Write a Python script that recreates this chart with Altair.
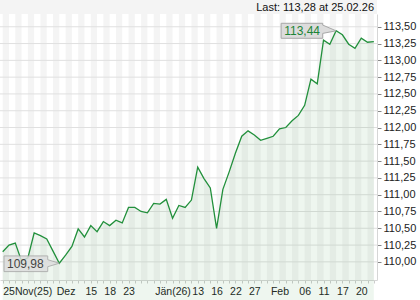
import json
import altair as alt
import pandas as pd

# ---- data ----
values = [110.15, 110.25, 110.28, 110.01, 110.06, 110.43, 110.39, 110.34, 110.16, 109.98,
          110.10, 110.23, 110.49, 110.37, 110.54, 110.45, 110.60, 110.54, 110.62, 110.58,
          110.81, 110.81, 110.75, 110.73, 110.87, 110.86, 110.93, 110.65, 110.84, 110.81,
          110.92, 111.41, 111.24, 111.10, 110.50, 111.08, 111.34, 111.62, 111.87, 111.95,
          111.89, 111.81, 111.84, 111.87, 111.98, 112.00, 112.10, 112.18, 112.33, 112.72,
          112.65, 113.30, 113.24, 113.44, 113.38, 113.24, 113.18, 113.33, 113.27, 113.28]
x_label_idx = [0, 10, 14, 17, 20, 27, 31, 34, 37, 40, 44, 48, 51, 54, 57]
x_labels = ["25Nov(25)", "Dez", "15", "18", "23", "Jän(26)", "13", "16", "22", "27",
            "Feb", "06", "11", "17", "20"]
y_ticks = [110.00, 110.25, 110.50, 110.75, 111.00, 111.25, 111.50, 111.75,
           112.00, 112.25, 112.50, 112.75, 113.00, 113.25, 113.50]
last_date = "25.02.26"

n = len(values)
df = pd.DataFrame({"i": list(range(n)), "v": values})
stripes = pd.DataFrame({"i": [i for i in range(0, n - 1, 2)],
                        "e": [i + 1 for i in range(0, n - 1, 2)]})
grid = pd.DataFrame({"v": y_ticks})

imax = values.index(max(values))
imin = values.index(min(values))
fmt = lambda v: f"{v:.2f}".replace(".", ",")
ext = pd.DataFrame({"i": [imax, imin], "v": [values[imax], values[imin]],
                    "lab": [fmt(values[imax]), fmt(values[imin])]})
hdr = pd.DataFrame({"txt": [f"Last: {fmt(values[-1])} at {last_date}"]})

W, H = 377, 266
xs = alt.Scale(domain=[-0.43, n - 0.5], nice=False, zero=False)
ys = alt.Scale(domain=[109.73, 113.69], nice=False, zero=False)
FONT = "Liberation Sans"
GREEN = "#22903c"

idx_js = json.dumps(x_label_idx)
lab_js = json.dumps(x_labels, ensure_ascii=False)
x_expr = f"indexof({idx_js}, datum.value) >= 0 ? {lab_js}[indexof({idx_js}, datum.value)] : ''"

xa = alt.Axis(values=list(range(n)), labelExpr=x_expr, labelOverlap=False,
              labelFlush=6, tickSize=3, tickColor="#cccccc",
              domainColor="#d6d6d6", labelPadding=3, labelFont=FONT,
              labelFontSize=10.5, labelColor="#222", grid=False, title=None)
ya = alt.Axis(orient="right", values=y_ticks,
              labelExpr="replace(format(datum.value, '.2f'), '.', ',')",
              tickSize=4, tickColor="#888888", domainColor="#d6d6d6",
              labelPadding=2, labelFont=FONT, labelFontSize=11,
              labelColor="#222", grid=False, title=None)

def X(f="i"):
    return alt.X(f"{f}:Q", scale=xs, axis=xa, title=None)

def Y(f="v"):
    return alt.Y(f"{f}:Q", scale=ys, axis=ya, title=None)

band = alt.Chart(hdr).mark_rect(color="#f4f4f4").encode(
    x=alt.value(0), x2=alt.value(W), y=alt.value(-14), y2=alt.value(0))
header = alt.Chart(hdr).mark_text(align="right", baseline="middle", font=FONT,
                                  fontSize=11, color="#111").encode(
    x=alt.value(374), y=alt.value(-6), text="txt:N")

stripe_layer = alt.Chart(stripes).mark_rect(color="#f4f4f4").encode(
    x=X("i"), x2="e:Q", y=alt.value(0), y2=alt.value(H))

grid_layer = alt.Chart(grid).mark_rule(color="#e0e0e0", strokeWidth=1).encode(y=Y())

area = alt.Chart(df).mark_area(color="#3a9a4a", opacity=0.085).encode(
    x=X(), y=Y(), y2=alt.value(H))

line = alt.Chart(df).mark_line(color=GREEN, strokeWidth=1.3).encode(x=X(), y=Y())

max_box_path = "M -55 -7.5 L -13.4 -7.5 L -13.4 -5.7 L 0 0 L -13.4 2.6 L -13.4 7.5 L -55 7.5 Z"
min_box_path = "M -55.3 -7.3 L -11.6 -7.3 L -11.6 -3.5 L 0 0 L -11.6 3.5 L -11.6 8.4 L -55.3 8.4 Z"

ext_max = ext.iloc[[0]]
ext_min = ext.iloc[[1]]
max_box = alt.Chart(ext_max).mark_point(shape=max_box_path, size=4, filled=True,
                                        fill="#dcdcdc", stroke="#a8a8a8",
                                        strokeWidth=1, opacity=1).encode(x=X(), y=Y())
max_txt = alt.Chart(ext_max).mark_text(font=FONT, fontSize=12, color="#1d8436",
                                       dx=-34, dy=0.5).encode(x=X(), y=Y(), text="lab:N")
min_box = alt.Chart(ext_min).mark_point(shape=min_box_path, size=4, filled=True,
                                        fill="#dedede", stroke="#a8a8a8",
                                        strokeWidth=1, opacity=0.85).encode(x=X(), y=Y())
min_txt = alt.Chart(ext_min).mark_text(font=FONT, fontSize=12, color="#444",
                                       dx=-34, dy=0.5).encode(x=X(), y=Y(), text="lab:N")

chart = alt.layer(band, header, stripe_layer, grid_layer, area, line,
                  max_box, max_txt, min_box, min_txt).properties(
    width=W, height=H,
    padding={"left": 0, "top": 14, "right": 43, "bottom": 20},
    autosize=alt.AutoSizeParams(type="none"),
    background="white",
).configure_view(stroke=None)

chart.save("out.html", embed_options={"renderer": "svg", "actions": False})
